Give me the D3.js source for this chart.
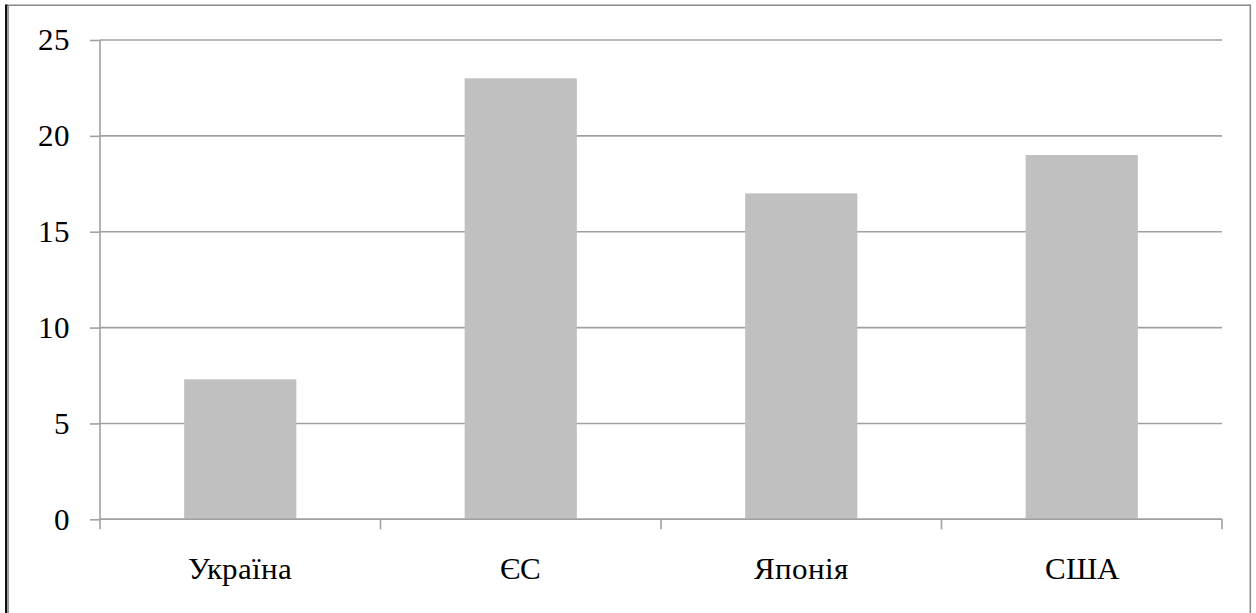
<!DOCTYPE html>
<html>
<head>
<meta charset="utf-8">
<script src="https://cdn.jsdelivr.net/npm/d3@7"></script>
<style>
  @font-face { font-family: "ChartSerif"; src: local("Liberation Serif"), local("LiberationSerif"), local("Tinos"), local("Tinos-Regular"), local("Times New Roman"); }
  html, body { margin: 0; padding: 0; background: #fff; }
  svg { display: block; }
  svg text, .lbl { font-family: "ChartSerif", "Liberation Serif", Tinos, "Times New Roman", serif !important; font-size: 31px !important; fill: #000; }
</style>
</head>
<body>
<svg id="fig" width="1256" height="613" font-family="Liberation Serif, Tinos, serif"></svg>
<script>
const categories = ["Україна", "ЄС", "Японія", "США"];
const values = [7.3, 23, 17, 19];
const yTicks = [0, 5, 10, 15, 20, 25];

const svg = d3.select("#fig");
const W = 1256, H = 613;
const margin = { left: 100, right: 34, top: 40, bottom: 94 };
const x0 = margin.left, x1 = W - margin.right;
const yTop = margin.top, yBot = 519.3;

// frame
svg.append("line").attr("x1", 6).attr("x2", 1251).attr("y1", 5.3).attr("y2", 5.3)
  .attr("stroke", "#8a8a8a").attr("stroke-width", 1.6);
svg.append("line").attr("x1", 6.2).attr("x2", 6.2).attr("y1", 4.5).attr("y2", H)
  .attr("stroke", "#111").attr("stroke-width", 2.4);
svg.append("line").attr("x1", 8.4).attr("x2", 8.4).attr("y1", 6).attr("y2", H)
  .attr("stroke", "#9a9a9a").attr("stroke-width", 1.4);
svg.append("line").attr("x1", 1250.3).attr("x2", 1250.3).attr("y1", 4.5).attr("y2", H)
  .attr("stroke", "#8a8a8a").attr("stroke-width", 1.6);

const x = d3.scaleBand().domain(categories).range([x0, x1]).paddingInner(0.6).paddingOuter(0.3);
const y = d3.scaleLinear().domain([0, 25]).range([yBot, yTop]);

// y ticks + labels
const yAxis = d3.axisLeft(y).tickValues(yTicks).tickSize(10).tickPadding(20).tickFormat(d3.format("d"));
const gY = svg.append("g").attr("transform", `translate(${x0},0)`).call(yAxis);
gY.attr("font-family", "Liberation Serif, Tinos, serif").attr("font-size", 31);
gY.select(".domain").remove();
gY.selectAll(".tick line").attr("stroke", "#a0a0a0").attr("stroke-width", 1.6);
gY.selectAll(".tick text").attr("class", "lbl").attr("fill", "#000");

// gridlines
svg.append("g").selectAll("line").data(yTicks).join("line")
  .attr("x1", x0).attr("x2", x1)
  .attr("y1", d => y(d)).attr("y2", d => y(d))
  .attr("stroke", "#a0a0a0").attr("stroke-width", 1.6);

// bars
svg.append("g").selectAll("rect").data(values).join("rect")
  .attr("x", (d, i) => x(categories[i]))
  .attr("width", x.bandwidth())
  .attr("y", d => y(d))
  .attr("height", d => yBot - y(d))
  .attr("fill", "#c0c0c0");

// y axis line
svg.append("line").attr("x1", x0).attr("x2", x0).attr("y1", yTop).attr("y2", yBot)
  .attr("stroke", "#a0a0a0").attr("stroke-width", 1.6);

// x axis line and category boundary ticks
svg.append("line").attr("x1", x0).attr("x2", x1).attr("y1", yBot).attr("y2", yBot)
  .attr("stroke", "#a0a0a0").attr("stroke-width", 1.6);
const step = (x1 - x0) / categories.length;
const bounds = d3.range(categories.length + 1).map(i => x0 + i * step);
svg.append("g").selectAll("line").data(bounds).join("line")
  .attr("x1", d => d).attr("x2", d => d).attr("y1", yBot).attr("y2", yBot + 10)
  .attr("stroke", "#a0a0a0").attr("stroke-width", 1.6);

// x labels
svg.append("g").attr("font-family", "Liberation Serif, Tinos, serif")
  .selectAll("text").data(categories).join("text")
  .attr("class", "lbl")
  .attr("x", d => x(d) + x.bandwidth() / 2)
  .attr("y", 579)
  .attr("text-anchor", "middle")
  .attr("fill", "#000")
  .text(d => d);
</script>
</body>
</html>
